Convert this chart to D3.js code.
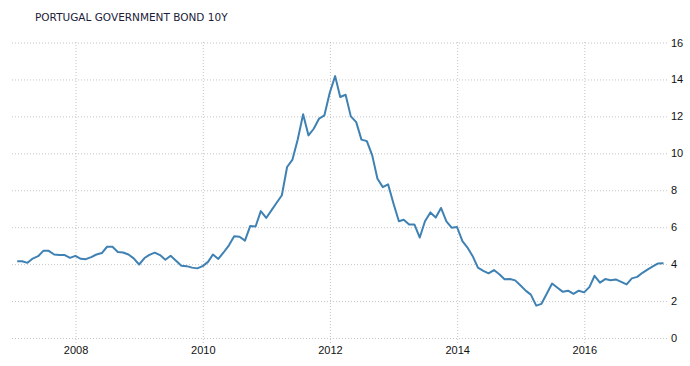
<!DOCTYPE html>
<html>
<head>
<meta charset="utf-8">
<script src="https://cdn.jsdelivr.net/npm/d3@7"></script>
<style>
  body { margin: 0; background: #fff; }
  #chart svg { display: block; }
</style>
</head>
<body>
<div id="chart"></div>
<script>
const title = "PORTUGAL GOVERNMENT BOND 10Y";

// monthly readings, Jan 2007 .. Mar 2017 (end of month)
const firstYear = 2007;
const yields = [
  4.16, 4.16, 4.07, 4.30, 4.43, 4.72, 4.72, 4.52, 4.49, 4.49, 4.34, 4.45,
  4.29, 4.27, 4.38, 4.52, 4.60, 4.94, 4.94, 4.66, 4.63, 4.52, 4.31, 3.98,
  4.33, 4.50, 4.62, 4.49, 4.24, 4.45, 4.18, 3.91, 3.89, 3.81, 3.77, 3.89,
  4.12, 4.52, 4.28, 4.63, 5.02, 5.51, 5.48, 5.27, 6.06, 6.04, 6.87, 6.50,
  6.92, 7.31, 7.73, 9.26, 9.66, 10.75, 12.11, 10.97, 11.33, 11.88, 12.05, 13.28,
  14.18, 13.05, 13.17, 12.00, 11.69, 10.74, 10.66, 9.89, 8.62, 8.17, 8.32, 7.28,
  6.32, 6.40, 6.15, 6.15, 5.44, 6.32, 6.80, 6.52, 7.04, 6.32, 5.97, 6.01,
  5.24, 4.91, 4.43, 3.81, 3.64, 3.50, 3.68, 3.45, 3.18, 3.19, 3.12, 2.84,
  2.55, 2.35, 1.75, 1.85, 2.41, 2.95, 2.72, 2.50, 2.56, 2.39, 2.56, 2.47,
  2.77, 3.37, 3.00, 3.19, 3.13, 3.17, 3.04, 2.90, 3.23, 3.31, 3.53, 3.72,
  3.89, 4.04, 4.05
];

const yearTicks = [2008, 2010, 2012, 2014, 2016];
const valueTicks = [0, 2, 4, 6, 8, 10, 12, 14, 16];

const width = 690, height = 366;

const data = yields.map((v, i) => ({
  date: new Date(firstYear, i + 1, 0),
  value: v
}));

const x = d3.scaleTime()
  .domain([new Date(2007, 0, 1), new Date(2017, 3, 20)])
  .range([12, 667]);

const y = d3.scaleLinear()
  .domain([0, 16])
  .range([338, 42.5]);

const svg = d3.select("#chart")
  .append("svg")
  .attr("width", width)
  .attr("height", height);

svg.append("text")
  .attr("x", 35)
  .attr("y", 21)
  .attr("font-family", "DejaVu Sans, sans-serif")
  .attr("font-size", 10.5)
  .attr("fill", "#1b1b3a")
  .text(title);

// horizontal grid + labels on the right
const yAxis = svg.append("g")
  .attr("transform", "translate(667,0)")
  .call(d3.axisRight(y).tickValues(valueTicks).tickSize(-655).tickPadding(4));

yAxis.select(".domain").remove();
yAxis.selectAll(".tick line")
  .attr("stroke", "#c4c4c4")
  .attr("stroke-dasharray", "1,2");
yAxis.selectAll(".tick text")
  .attr("font-family", "Liberation Sans, Arial, sans-serif")
  .attr("font-size", 11)
  .attr("fill", "#111");

// vertical grid + year labels
const xAxis = svg.append("g")
  .attr("transform", "translate(0,343)")
  .call(d3.axisBottom(x)
    .tickValues(yearTicks.map((yr) => new Date(yr, 0, 1)))
    .tickFormat(d3.timeFormat("%Y"))
    .tickSize(-301)
    .tickPadding(3));

xAxis.select(".domain").remove();
xAxis.selectAll(".tick line")
  .attr("stroke", "#c4c4c4")
  .attr("stroke-dasharray", "1,2");
xAxis.selectAll(".tick text")
  .attr("font-family", "Liberation Sans, Arial, sans-serif")
  .attr("font-size", 11)
  .attr("fill", "#111");

const line = d3.line()
  .x((d) => x(d.date))
  .y((d) => y(d.value));

svg.append("path")
  .datum(data)
  .attr("fill", "none")
  .attr("stroke", "#3f81b3")
  .attr("stroke-width", 2)
  .attr("stroke-linejoin", "round")
  .attr("d", line);
</script>
</body>
</html>
